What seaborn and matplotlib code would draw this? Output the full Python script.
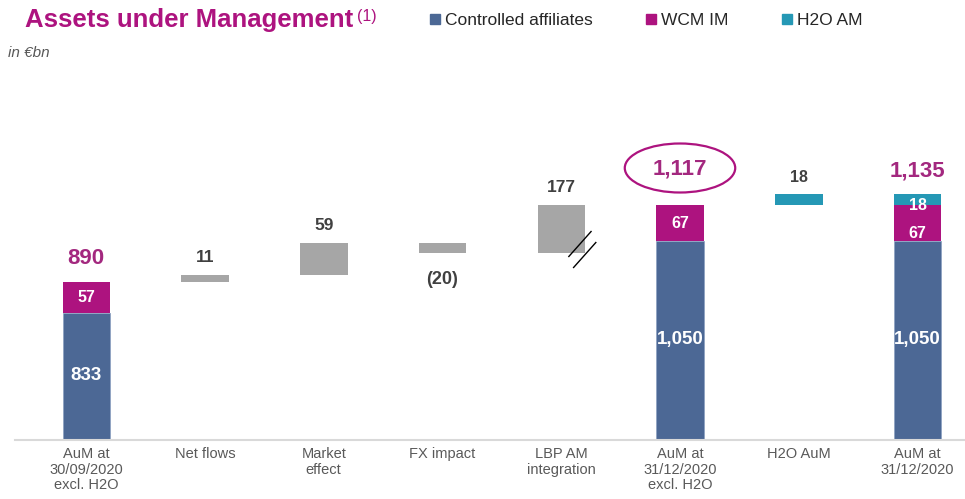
import numpy as np
import pandas as pd
import seaborn as sns
import matplotlib.pyplot as plt
from matplotlib.patches import Ellipse
from matplotlib.lines import Line2D

OUTPUT_PATH = "out.png"

# categories along the x axis
categories = ["AuM at\n30/09/2020\nexcl. H2O", "Net flows", "Market\neffect", "FX impact",
              "LBP AM\nintegration", "AuM at\n31/12/2020\nexcl. H2O", "H2O AuM", "AuM at\n31/12/2020"]

# the chart is not drawn to scale: heights below are the drawn heights
controlled_h = [127, 0, 0, 0, 0, 199, 0, 199]
wcm_h = [31, 0, 0, 0, 0, 36, 0, 36]
h2o_total_h = [0, 0, 0, 0, 0, 0, 0, 11]
gray_steps_h = [7, 32, -10, 48]      # net flows, market, fx, LBP
h2o_step_h = 11

# printed values
controlled_lbl = ["833", "", "", "", "", "1,050", "", "1,050"]
wcm_lbl = ["57", "", "", "", "", "67", "", "67"]
total_lbl = {0: "890", 5: "1,117", 7: "1,135"}
step_lbl = ["11", "59", "(20)", "177"]
h2o_step_lbl = "18"

C_CTRL = "#4C6895"
C_WCM = "#AD137F"
C_H2O = "#2598B5"
C_GRAY = "#A6A6A6"
C_TOTAL = "#A3287F"
C_DARK = "#404040"
C_TICK = "#595959"

sns.set_theme(style="white")
plt.rcParams["font.family"] = ["Liberation Sans", "DejaVu Sans"]

fig = plt.figure(figsize=(9.65, 4.99), dpi=100)
ax = fig.add_axes([15 / 965, 59 / 499, 950 / 965, 300 / 499])

df = pd.DataFrame({"cat": categories, "controlled": controlled_h})
sns.barplot(data=df, x="cat", y="controlled", order=categories, color=C_CTRL,
            saturation=1, width=0.4, edgecolor="#8FA3C2", linewidth=0.6, ax=ax)

x = np.arange(len(categories))
W = 0.4
ax.bar(x, wcm_h, bottom=controlled_h, width=W, color=C_WCM, linewidth=0)
ax.bar(x, h2o_total_h, bottom=np.add(controlled_h, wcm_h), width=W, color=C_H2O, linewidth=0)

# waterfall steps
level = controlled_h[0] + wcm_h[0]
step_bottoms = []
for i, s in enumerate(gray_steps_h):
    b = level if s > 0 else level + s
    step_bottoms.append(b)
    ax.bar(i + 1, abs(s), bottom=b, width=W, color=C_GRAY, linewidth=0)
    level += s
sub_total = controlled_h[5] + wcm_h[5]
ax.bar(6, h2o_step_h, bottom=sub_total, width=W, color=C_H2O, linewidth=0)

# labels inside bars
for i in range(len(categories)):
    if controlled_lbl[i]:
        ax.text(i, controlled_h[i] / 2 + 1, controlled_lbl[i], ha="center", va="center",
                color="white", fontsize=13.5, fontweight="bold")
    if wcm_lbl[i]:
        yy = controlled_h[i] + wcm_h[i] / 2
        if i == 7:
            yy -= 11
        ax.text(i, yy, wcm_lbl[i], ha="center", va="center",
                color="white", fontsize=11.5, fontweight="bold")
ax.text(7, controlled_h[7] + wcm_h[7] - 1, h2o_step_lbl, ha="center", va="center",
        color="white", fontsize=11.5, fontweight="bold")

# totals
for i, t in total_lbl.items():
    top = controlled_h[i] + wcm_h[i] + h2o_total_h[i]
    off = 36 if i == 5 else 23
    ax.text(i, top + off, t, ha="center", va="center", color=C_TOTAL,
            fontsize=16, fontweight="bold")
ax.add_patch(Ellipse((5, sub_total + 37), 0.93, 49, fill=False,
                     edgecolor=C_WCM, linewidth=1.6))

# step labels
for i, s in enumerate(gray_steps_h):
    b = step_bottoms[i]
    if s > 0:
        ax.text(i + 1, b + s + 18, step_lbl[i], ha="center", va="center",
                color=C_DARK, fontsize=12.5, fontweight="bold")
    else:
        ax.text(i + 1, b - 27, step_lbl[i], ha="center", va="center",
                color=C_DARK, fontsize=13, fontweight="bold")
ax.text(6, sub_total + h2o_step_h + 16, h2o_step_lbl, ha="center", va="center",
        color=C_DARK, fontsize=11.5, fontweight="bold")

# axis break marks on the LBP bar
lb = step_bottoms[3]
for dx, dy in [(0.06, -4), (0.10, -15)]:
    ax.plot([4 + dx, 4 + dx + 0.195], [lb + dy, lb + dy + 26], color="black",
            linewidth=1.0, solid_capstyle="butt")

ax.set_xlim(-0.6, 7.4)
ax.set_ylim(0, 300)
ax.set_xlabel("")
ax.set_ylabel("")
ax.set_yticks([])
ax.set_xticks(x)
ax.set_xticklabels(categories, fontsize=10.5, color=C_TICK, linespacing=1.15)
ax.tick_params(axis="x", length=0, pad=5)
for side in ["top", "right", "left"]:
    ax.spines[side].set_visible(False)
ax.spines["bottom"].set_color("#D9D9D9")
ax.spines["bottom"].set_linewidth(1.5)

# title, unit, legend
fig.text(25 / 965, 1 - 20 / 499, "Assets under Management", color=C_WCM, fontsize=18.5,
         fontweight="bold", va="center", ha="left")
fig.text(357 / 965, 1 - 16 / 499, "(1)", color=C_WCM, fontsize=11.5, va="center", ha="left")
fig.text(8 / 965, 1 - 53 / 499, "in €bn", color=C_TICK, fontsize=11, style="italic",
         va="center", ha="left")

handles = [Line2D([], [], marker="s", linestyle="", markersize=7, color=c)
           for c in (C_CTRL, C_WCM, C_H2O)]
fig.legend(handles, ["Controlled affiliates", "WCM IM", "H2O AM"], ncol=3,
           loc="center left", bbox_to_anchor=(429 / 965, 1 - 20 / 499), frameon=False,
           handlelength=0.7, handletextpad=0.2, columnspacing=3.05,
           prop={"size": 12.5}, borderaxespad=0, borderpad=0)

fig.savefig(OUTPUT_PATH, dpi=100)
